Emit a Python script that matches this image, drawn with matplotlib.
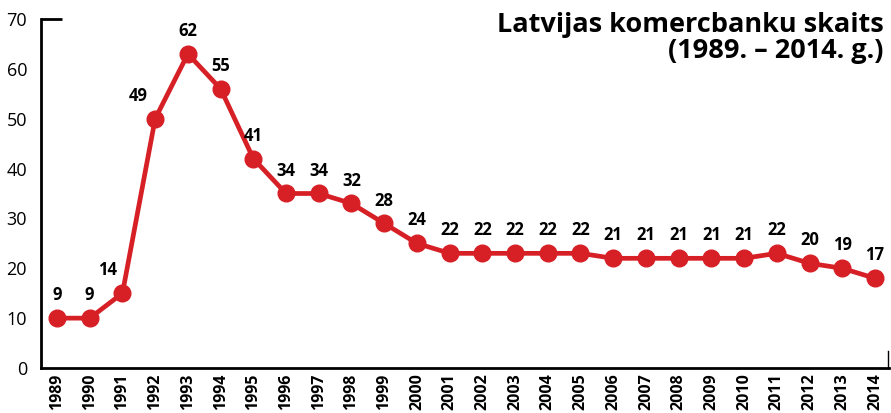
import matplotlib
matplotlib.use("Agg")
import matplotlib.pyplot as plt

plt.rcParams['font.family'] = ['Open Sans', 'DejaVu Sans']
plt.rcParams['font.stretch'] = 'normal'

# Latvian commercial banks per year
years = [str(y) for y in range(1989, 2015)]
banks = [9, 9, 14, 49, 62, 55, 41, 34, 34, 32, 28, 24, 22, 22, 22, 22, 22,
         21, 21, 21, 21, 21, 22, 20, 19, 17]
# the original chart draws each point one unit above its label
plotted = [b + 1 for b in banks]

red = '#d71f26'

fig = plt.figure(figsize=(8.91, 4.13), dpi=100)
ax = fig.add_axes([41 / 891, 45 / 413, 848 / 891, 349 / 413])

x = list(range(len(years)))
ax.plot(x, plotted, color=red, lw=3.4, marker='o', ms=12, zorder=3,
        solid_capstyle='round')

# value labels above the markers
for i, (v, p) in enumerate(zip(banks, plotted)):
    dx = 0
    if years[i] == '1991':
        dx = -11
    elif years[i] == '1992':
        dx = -12
    ax.annotate(str(v), (i, p), xytext=(dx, 10), textcoords='offset points',
                ha='center', va='bottom', fontsize=12, fontweight='bold',
                fontstretch='normal')

ax.set_xlim(-0.49, 25.43)
ax.set_ylim(0, 70)
ax.set_xticks(x)
ax.set_xticklabels(years, rotation=90, fontweight='bold', fontstretch='normal')
ax.set_yticks(range(0, 71, 10))
ax.tick_params(axis='both', length=0, labelsize=13)
ax.tick_params(axis='x', pad=4, labelsize=11.5)
ax.tick_params(axis='y', pad=10)

for s in ['top', 'right']:
    ax.spines[s].set_visible(False)
ax.spines['left'].set_linewidth(2)
ax.spines['bottom'].set_linewidth(2)

# short tick at the top of the y axis and at the right end of the x axis
ax.plot([0, 0.025], [1, 1], transform=ax.transAxes, color='black', lw=2,
        clip_on=False, solid_capstyle='butt')
ax.plot([0.999, 0.999], [0, 0.05], transform=ax.transAxes, color='black', lw=1,
        clip_on=False)

fig.text(884 / 891, 1 - 12 / 413, 'Latvijas komercbanku skaits\n(1989. – 2014. g.)',
         ha='right', va='top', fontsize=19.5, fontweight='bold',
         fontstretch='normal', linespacing=0.98)

fig.savefig('out.png', dpi=100)
